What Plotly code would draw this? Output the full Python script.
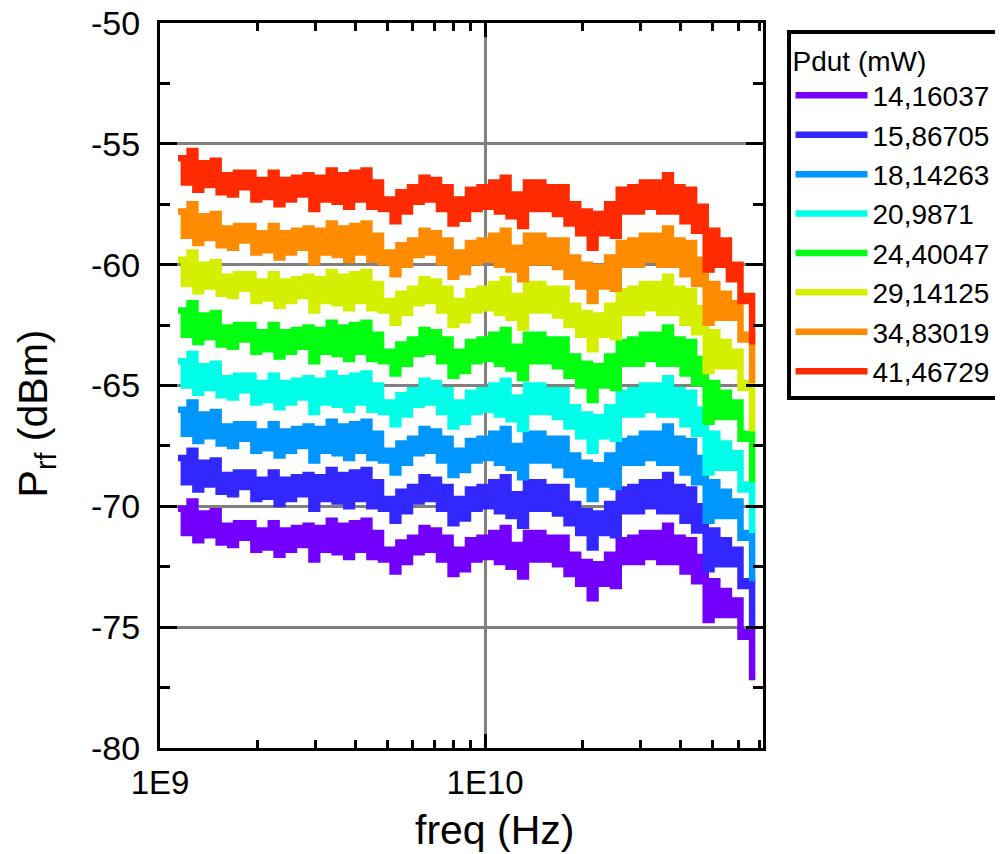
import plotly.graph_objects as go

# ---------------- data ----------------
freq_ghz = [1.136, 1.184, 1.233, 1.285, 1.339, 1.395, 1.454, 1.515, 1.578, 1.644,
            1.713, 1.785, 1.860, 1.938, 2.019, 2.104, 2.192, 2.284, 2.380, 2.480,
            2.584, 2.692, 2.805, 2.923, 3.045, 3.173, 3.306, 3.445, 3.589, 3.740,
            3.896, 4.060, 4.230, 4.407, 4.592, 4.785, 4.985, 5.194, 5.412, 5.639,
            5.875, 6.122, 6.378, 6.646, 6.925, 7.215, 7.517, 7.832, 8.161, 8.503,
            8.860, 9.231, 9.618, 10.02, 10.44, 10.88, 11.34, 11.81, 12.31, 12.82,
            13.36, 13.92, 14.50, 15.11, 15.75, 16.41, 17.09, 17.81, 18.56, 19.34,
            20.15, 20.99, 21.87, 22.79, 23.74, 24.74, 25.78, 26.86, 27.98, 29.16,
            30.38, 31.65, 32.98, 34.36, 35.80, 37.30, 38.87, 40.50, 42.19, 43.96,
            45.81, 47.73, 49.73, 51.81, 53.98, 56.25, 58.60, 61.06, 63.62, 66.29]

p_14_16 = [-70.1, -71.1, -69.8, -71.4, -70.3, -71.2, -70.2, -71.5, -70.8, -71.6,
           -70.7, -71.3, -70.7, -71.8, -71.0, -71.7, -70.7, -72.0, -71.0, -71.8,
           -70.9, -71.6, -70.8, -72.2, -70.9, -71.8, -70.6, -71.9, -70.8, -72.1,
           -70.7, -71.8, -70.6, -72.1, -71.1, -72.2, -71.8, -72.7, -71.5, -72.3,
           -71.3, -71.9, -70.9, -71.8, -71.0, -72.2, -71.3, -72.8, -71.8, -72.6,
           -71.4, -72.2, -71.3, -72.1, -71.1, -72.3, -70.9, -72.5, -71.6, -72.9,
           -71.1, -72.2, -71.1, -72.2, -71.3, -72.4, -71.3, -72.8, -72.0, -73.2,
           -72.3, -73.8, -72.4, -73.2, -72.0, -73.3, -71.4, -72.3, -71.3, -72.3,
           -71.1, -72.1, -71.1, -72.3, -70.8, -72.3, -71.3, -72.7, -71.4, -73.1,
           -72.1, -74.7, -73.1, -74.5, -73.5, -74.5, -73.9, -75.4, -75.2, -77.2]

p_15_87 = [-68.0, -69.0, -67.7, -69.3, -68.2, -69.1, -68.1, -69.4, -68.7, -69.5,
           -68.6, -69.2, -68.6, -69.7, -68.9, -69.6, -68.6, -69.9, -68.9, -69.7,
           -68.8, -69.5, -68.7, -70.1, -68.8, -69.7, -68.5, -69.8, -68.7, -70.0,
           -68.6, -69.7, -68.5, -70.0, -69.0, -70.1, -69.7, -70.6, -69.4, -70.2,
           -69.2, -69.8, -68.8, -69.7, -68.9, -70.1, -69.2, -70.7, -69.7, -70.5,
           -69.3, -70.1, -69.2, -70.0, -69.0, -70.2, -68.8, -70.4, -69.5, -70.8,
           -69.0, -70.1, -69.0, -70.1, -69.2, -70.3, -69.2, -70.7, -69.9, -71.1,
           -70.2, -71.7, -70.3, -71.1, -69.9, -71.2, -69.3, -70.2, -69.2, -70.2,
           -69.0, -70.0, -69.0, -70.2, -68.7, -70.2, -69.2, -70.6, -69.3, -71.0,
           -70.0, -72.6, -71.0, -72.4, -71.4, -72.4, -71.8, -73.3, -73.1, -75.1]

p_18_14 = [-66.0, -67.0, -65.7, -67.3, -66.2, -67.1, -66.1, -67.4, -66.7, -67.5,
           -66.6, -67.2, -66.6, -67.7, -66.9, -67.6, -66.6, -67.9, -66.9, -67.7,
           -66.8, -67.5, -66.7, -68.1, -66.8, -67.7, -66.5, -67.8, -66.7, -68.0,
           -66.6, -67.7, -66.5, -68.0, -67.0, -68.1, -67.7, -68.6, -67.4, -68.2,
           -67.2, -67.8, -66.8, -67.7, -66.9, -68.1, -67.2, -68.7, -67.7, -68.5,
           -67.3, -68.1, -67.2, -68.0, -67.0, -68.2, -66.8, -68.4, -67.5, -68.8,
           -67.0, -68.1, -67.0, -68.1, -67.2, -68.3, -67.2, -68.7, -67.9, -69.1,
           -68.2, -69.7, -68.3, -69.1, -67.9, -69.2, -67.3, -68.2, -67.2, -68.2,
           -67.0, -68.0, -67.0, -68.2, -66.7, -68.2, -67.2, -68.6, -67.3, -69.0,
           -68.0, -70.6, -69.0, -70.4, -69.4, -70.4, -69.8, -71.3, -71.1, -73.1]

p_20_99 = [-64.0, -65.0, -63.7, -65.3, -64.2, -65.1, -64.1, -65.4, -64.7, -65.5,
           -64.6, -65.2, -64.6, -65.7, -64.9, -65.6, -64.6, -65.9, -64.9, -65.7,
           -64.8, -65.5, -64.7, -66.1, -64.8, -65.7, -64.5, -65.8, -64.7, -66.0,
           -64.6, -65.7, -64.5, -66.0, -65.0, -66.1, -65.7, -66.6, -65.4, -66.2,
           -65.2, -65.8, -64.8, -65.7, -64.9, -66.1, -65.2, -66.7, -65.7, -66.5,
           -65.3, -66.1, -65.2, -66.0, -65.0, -66.2, -64.8, -66.4, -65.5, -66.8,
           -65.0, -66.1, -65.0, -66.1, -65.2, -66.3, -65.2, -66.7, -65.9, -67.1,
           -66.2, -67.7, -66.3, -67.1, -65.9, -67.2, -65.3, -66.2, -65.2, -66.2,
           -65.0, -66.0, -65.0, -66.2, -64.7, -66.2, -65.2, -66.6, -65.3, -67.0,
           -66.0, -68.6, -67.0, -68.4, -67.4, -68.4, -67.8, -69.3, -69.1, -71.1]

p_24_40 = [-61.9, -62.9, -61.6, -63.2, -62.1, -63.0, -62.0, -63.3, -62.6, -63.4,
           -62.5, -63.1, -62.5, -63.6, -62.8, -63.5, -62.5, -63.8, -62.8, -63.6,
           -62.7, -63.4, -62.6, -64.0, -62.7, -63.6, -62.4, -63.7, -62.6, -63.9,
           -62.5, -63.6, -62.4, -63.9, -62.9, -64.0, -63.6, -64.5, -63.3, -64.1,
           -63.1, -63.7, -62.7, -63.6, -62.8, -64.0, -63.1, -64.6, -63.6, -64.4,
           -63.2, -64.0, -63.1, -63.9, -62.9, -64.1, -62.7, -64.3, -63.4, -64.7,
           -62.9, -64.0, -62.9, -64.0, -63.1, -64.2, -63.1, -64.6, -63.8, -65.0,
           -64.1, -65.6, -64.2, -65.0, -63.8, -65.1, -63.2, -64.1, -63.1, -64.1,
           -62.9, -63.9, -62.9, -64.1, -62.6, -64.1, -63.1, -64.5, -63.2, -64.9,
           -63.9, -66.5, -64.9, -66.3, -65.3, -66.3, -65.7, -67.2, -67.0, -69.0]

p_29_14 = [-59.8, -60.8, -59.5, -61.1, -60.0, -60.9, -59.9, -61.2, -60.5, -61.3,
           -60.4, -61.0, -60.4, -61.5, -60.7, -61.4, -60.4, -61.7, -60.7, -61.5,
           -60.6, -61.3, -60.5, -61.9, -60.6, -61.5, -60.3, -61.6, -60.5, -61.8,
           -60.4, -61.5, -60.3, -61.8, -60.8, -61.9, -61.5, -62.4, -61.2, -62.0,
           -61.0, -61.6, -60.6, -61.5, -60.7, -61.9, -61.0, -62.5, -61.5, -62.3,
           -61.1, -61.9, -61.0, -61.8, -60.8, -62.0, -60.6, -62.2, -61.3, -62.6,
           -60.8, -61.9, -60.8, -61.9, -61.0, -62.1, -61.0, -62.5, -61.7, -62.9,
           -62.0, -63.5, -62.1, -62.9, -61.7, -63.0, -61.1, -62.0, -61.0, -62.0,
           -60.8, -61.8, -60.8, -62.0, -60.5, -62.0, -61.0, -62.4, -61.1, -62.8,
           -61.8, -64.4, -62.8, -64.2, -63.2, -64.2, -63.6, -65.1, -64.9, -66.9]

p_34_83 = [-57.8, -58.8, -57.5, -59.1, -58.0, -58.9, -57.9, -59.2, -58.5, -59.3,
           -58.4, -59.0, -58.4, -59.5, -58.7, -59.4, -58.4, -59.7, -58.7, -59.5,
           -58.6, -59.3, -58.5, -59.9, -58.6, -59.5, -58.3, -59.6, -58.5, -59.8,
           -58.4, -59.5, -58.3, -59.8, -58.8, -59.9, -59.5, -60.4, -59.2, -60.0,
           -59.0, -59.6, -58.6, -59.5, -58.7, -59.9, -59.0, -60.5, -59.5, -60.3,
           -59.1, -59.9, -59.0, -59.8, -58.8, -60.0, -58.6, -60.2, -59.3, -60.6,
           -58.8, -59.9, -58.8, -59.9, -59.0, -60.1, -59.0, -60.5, -59.7, -60.9,
           -60.0, -61.5, -60.1, -60.9, -59.7, -61.0, -59.1, -60.0, -59.0, -60.0,
           -58.8, -59.8, -58.8, -60.0, -58.5, -60.0, -59.0, -60.4, -59.1, -60.8,
           -59.8, -62.4, -60.8, -62.2, -61.2, -62.2, -61.6, -63.1, -62.9, -64.9]

p_41_47 = [-55.6, -56.6, -55.3, -56.9, -55.8, -56.7, -55.7, -57.0, -56.3, -57.1,
           -56.2, -56.8, -56.2, -57.3, -56.5, -57.2, -56.2, -57.5, -56.5, -57.3,
           -56.4, -57.1, -56.3, -57.7, -56.4, -57.3, -56.1, -57.4, -56.3, -57.6,
           -56.2, -57.3, -56.1, -57.6, -56.6, -57.7, -57.3, -58.2, -57.0, -57.8,
           -56.8, -57.4, -56.4, -57.3, -56.5, -57.7, -56.8, -58.3, -57.3, -58.1,
           -56.9, -57.7, -56.8, -57.6, -56.6, -57.8, -56.4, -58.0, -57.1, -58.4,
           -56.6, -57.7, -56.6, -57.7, -56.8, -57.9, -56.8, -58.3, -57.5, -58.7,
           -57.8, -59.3, -57.9, -58.7, -57.5, -58.8, -56.9, -57.8, -56.8, -57.8,
           -56.6, -57.6, -56.6, -57.8, -56.3, -57.8, -56.8, -58.2, -56.9, -58.6,
           -57.6, -60.2, -58.6, -60.0, -59.0, -60.6, -60.0, -61.5, -61.3, -63.3]

series_labels = ["14,16037", "15,86705", "18,14263", "20,9871",
                 "24,40047", "29,14125", "34,83019", "41,46729"]
series_values = [p_14_16, p_15_87, p_18_14, p_20_99, p_24_40, p_29_14, p_34_83, p_41_47]
series_colors = ["#7300FF", "#3228FF", "#0096FF", "#00FFE8",
                 "#00FF10", "#D4F000", "#FF8C00", "#FF2A00"]

x_tick_vals = [1e9, 1e10]
x_tick_text = ["1E9", "1E10"]
y_tick_vals = [-80, -75, -70, -65, -60, -55, -50]
y_tick_text = ["-80", "-75", "-70", "-65", "-60", "-55", "-50"]

FONT = "Arial, Liberation Sans, sans-serif"

freq_hz = [f * 1e9 for f in freq_ghz]

fig = go.Figure()
for lab, vals, col in zip(series_labels, series_values, series_colors):
    fig.add_trace(go.Scatter(x=freq_hz, y=vals, mode="lines", name=lab,
                             line=dict(color=col, width=6.5, shape="hv")))

minor_x = [k * 10 ** e for e in (9, 10) for k in range(2, 10)]

fig.update_layout(
    width=995, height=846,
    margin=dict(l=152, r=240, t=15, b=106, autoexpand=False),
    paper_bgcolor="white", plot_bgcolor="white",
    font=dict(family=FONT, color="black"),
    showlegend=True,
    legend=dict(x=1.039, xanchor="left", y=0.99, yanchor="top",
                bordercolor="black", borderwidth=4, bgcolor="white",
                font=dict(size=28, family=FONT, color="black"),
                title=dict(text="Pdut (mW)", font=dict(size=28, family=FONT)),
                itemwidth=72, tracegroupgap=0),
    xaxis=dict(type="log", range=[9, 10.855], automargin=False,
               tickmode="array", tickvals=x_tick_vals, ticktext=x_tick_text,
               ticks="inside", ticklen=14, tickwidth=3, tickcolor="black",
               showline=True, linecolor="black", linewidth=3, mirror="ticks",
               showgrid=True, gridcolor="#808080", gridwidth=3,
               zeroline=False, tickfont=dict(size=33, family=FONT),
               ticklabelstandoff=3, ticklabeloverflow="allow",
               minor=dict(tickmode="array", tickvals=minor_x, ticks="inside",
                          ticklen=8, tickwidth=3, tickcolor="black", showgrid=False)),
    yaxis=dict(range=[-80, -50], automargin=False,
               tickmode="array", tickvals=y_tick_vals, ticktext=y_tick_text,
               ticks="inside", ticklen=17, tickwidth=3, tickcolor="black",
               showline=True, linecolor="black", linewidth=3, mirror="ticks",
               showgrid=True, gridcolor="#808080", gridwidth=3,
               zeroline=False, tickfont=dict(size=34, family=FONT),
               ticklabelstandoff=10, ticklabeloverflow="allow",
               minor=dict(tickmode="linear", tick0=-80, dtick=2.5, ticks="inside",
                          ticklen=10, tickwidth=3, tickcolor="black", showgrid=False)),
    annotations=[
        dict(text="freq (Hz)", xref="paper", yref="paper", x=0.554, y=-0.113,
             xanchor="center", yanchor="middle", showarrow=False,
             font=dict(size=41, family=FONT)),
        dict(text="P<sub>rf</sub> (dBm)", xref="paper", yref="paper", x=-0.205, y=0.462,
             xanchor="center", yanchor="middle", showarrow=False, textangle=-90,
             font=dict(size=41, family=FONT)),
    ],
)

fig.write_html("out.html")
